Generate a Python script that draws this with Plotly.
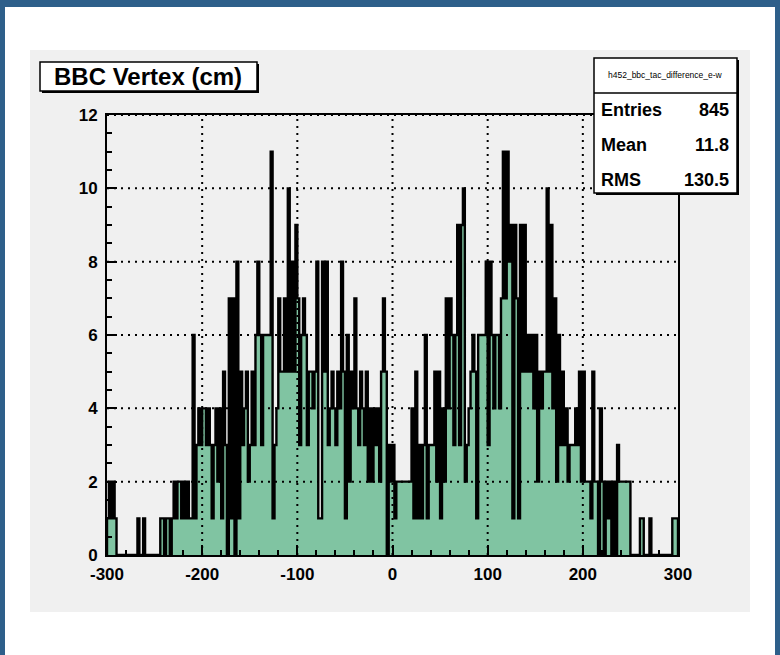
import plotly.graph_objects as go

# ---------------- data (2 cm bins from -300 to 300) ----------------
bin_low = -300
bin_width = 2
counts = [
    1, 2, 1, 2, 1, 0, 0, 0, 0, 0,
    0, 0, 0, 0, 0, 0, 1, 0, 0, 1,
    0, 0, 0, 0, 0, 0, 0, 0, 1, 1,
    0, 1, 1, 0, 1, 2, 1, 2, 2, 1,
    2, 1, 2, 1, 1, 6, 1, 3, 4, 3,
    4, 4, 3, 4, 3, 1, 3, 4, 2, 4,
    1, 5, 3, 0, 7, 1, 7, 0, 8, 1,
    5, 3, 4, 5, 2, 3, 5, 3, 6, 8,
    6, 3, 6, 6, 6, 6, 11, 1, 3, 4,
    7, 5, 5, 7, 5, 10, 5, 8, 5, 9,
    7, 3, 6, 7, 6, 3, 5, 5, 4, 5,
    8, 1, 1, 8, 5, 8, 3, 4, 5, 4,
    3, 5, 4, 8, 5, 1, 6, 2, 5, 4,
    7, 4, 3, 5, 4, 3, 5, 2, 4, 2,
    4, 3, 4, 2, 5, 7, 5, 0, 3, 2,
    3, 1, 2, 2, 2, 2, 2, 2, 2, 2,
    4, 1, 5, 1, 3, 1, 3, 6, 1, 3,
    3, 3, 5, 2, 5, 1, 4, 2, 7, 4,
    7, 6, 3, 6, 9, 3, 9, 10, 2, 3,
    4, 5, 6, 5, 1, 6, 6, 6, 6, 8,
    3, 8, 6, 4, 6, 6, 4, 7, 11, 7,
    11, 8, 9, 1, 9, 7, 1, 9, 5, 9,
    5, 6, 5, 6, 4, 6, 2, 5, 4, 5,
    5, 10, 5, 9, 4, 7, 2, 6, 3, 5,
    3, 4, 2, 3, 3, 3, 4, 3, 5, 2,
    5, 2, 2, 2, 1, 5, 2, 2, 0, 4,
    2, 0, 2, 1, 2, 0, 2, 0, 3, 2,
    2, 2, 2, 2, 2, 0, 0, 0, 0, 0,
    1, 1, 0, 0, 0, 1, 0, 0, 0, 0,
    0, 0, 0, 0, 0, 0, 0, 1, 1, 1,
]

x_ticks = [-300, -200, -100, 0, 100, 200, 300]
x_tick_labels = ["-300", "-200", "-100", "0", "100", "200", "300"]
y_ticks = [0, 2, 4, 6, 8, 10, 12]
y_tick_labels = ["0", "2", "4", "6", "8", "10", "12"]

title_text = "BBC Vertex (cm)"
hist_name = "h452_bbc_tac_difference_e-w"
stat_names = ["Entries", "Mean", "RMS"]
stat_values = ["845", "11.8", "130.5"]

# ---------------- geometry ----------------
W, H = 780, 655
L, R, T, B = 107, 102, 115, 100
PW, PH = W - L - R, H - T - B


def px(xp):
    return (xp - L) / PW


def py(yp):
    return (H - B - yp) / PH


GREEN = "#80c4a2"
CANVAS = "#f0f0f0"
FONT = "Liberation Sans"

# step outline of the histogram
n = len(counts)
edges = [bin_low + bin_width * i for i in range(n + 1)]
xs = [edges[0]] + edges + [edges[-1]]
ys = [0] + counts + [counts[-1], 0]

fig = go.Figure()
fig.add_trace(go.Scatter(
    x=xs, y=ys, mode="lines", line=dict(shape="hv", color="black", width=2.4),
    fill="tozeroy", fillcolor=GREEN, hoverinfo="skip", showlegend=False,
))

shapes = []
# window frame and canvas
shapes.append(dict(type="rect", xref="paper", yref="paper", x0=px(0), x1=px(W), y0=py(H), y1=py(0),
                   fillcolor="white", line=dict(width=0), layer="below"))
shapes.append(dict(type="rect", xref="paper", yref="paper", x0=px(0), x1=px(5), y0=py(H), y1=py(0),
                   fillcolor="#2e5f8a", line=dict(width=0), layer="below"))
shapes.append(dict(type="rect", xref="paper", yref="paper", x0=px(0), x1=px(W), y0=py(7), y1=py(0),
                   fillcolor="#2e5f8a", line=dict(width=0), layer="below"))
shapes.append(dict(type="rect", xref="paper", yref="paper", x0=px(775), x1=px(W), y0=py(H), y1=py(0),
                   fillcolor="#2e5f8a", line=dict(width=0), layer="below"))
shapes.append(dict(type="rect", xref="paper", yref="paper", x0=px(30), x1=px(750), y0=py(612), y1=py(50),
                   fillcolor=CANVAS, line=dict(width=0), layer="below"))

# dotted grid on top of the histogram
for xv in x_ticks[1:-1]:
    shapes.append(dict(type="line", xref="x", yref="y", x0=xv, x1=xv, y0=y_ticks[0], y1=y_ticks[-1],
                       line=dict(color="black", width=2, dash="2px,5px"), layer="above"))
for yv in y_ticks[1:]:
    shapes.append(dict(type="line", xref="x", yref="y", x0=x_ticks[0], x1=x_ticks[-1], y0=yv, y1=yv,
                       line=dict(color="black", width=2, dash="2px,5px"), layer="above"))

# title box (with shadow)
shapes.append(dict(type="rect", xref="paper", yref="paper", x0=px(42), x1=px(259), y0=py(93), y1=py(64),
                   fillcolor="black", line=dict(width=0), layer="above"))
shapes.append(dict(type="rect", xref="paper", yref="paper", x0=px(40), x1=px(257), y0=py(91), y1=py(62),
                   fillcolor="white", line=dict(color="black", width=1.5), layer="above"))
# stats box (with shadow)
shapes.append(dict(type="rect", xref="paper", yref="paper", x0=px(596), x1=px(739), y0=py(195), y1=py(60),
                   fillcolor="black", line=dict(width=0), layer="above"))
shapes.append(dict(type="rect", xref="paper", yref="paper", x0=px(594), x1=px(737), y0=py(193), y1=py(58),
                   fillcolor="white", line=dict(color="black", width=1.5), layer="above"))
shapes.append(dict(type="line", xref="paper", yref="paper", x0=px(594), x1=px(737), y0=py(93), y1=py(93),
                   line=dict(color="black", width=1.5), layer="above"))

annotations = [
    dict(text=title_text, xref="paper", yref="paper", x=px(148), y=py(77), showarrow=False,
         xanchor="center", yanchor="middle", font=dict(family=FONT, size=24, color="black", weight="bold")),
    dict(text=hist_name, xref="paper", yref="paper", x=px(665), y=py(75), showarrow=False,
         xanchor="center", yanchor="middle", font=dict(family=FONT, size=8.5, color="black")),
]
for i, (nm, val) in enumerate(zip(stat_names, stat_values)):
    yp = 110 + 35 * i
    annotations.append(dict(text=nm, xref="paper", yref="paper", x=px(599), y=py(yp), showarrow=False,
                            xanchor="left", yanchor="middle",
                            font=dict(family=FONT, size=18, color="black", weight="bold")))
    annotations.append(dict(text=val, xref="paper", yref="paper", x=px(731), y=py(yp), showarrow=False,
                            xanchor="right", yanchor="middle",
                            font=dict(family=FONT, size=18, color="black", weight="bold")))

tick_font = dict(family=FONT, size=17, color="black", weight="bold")
fig.update_layout(
    width=W, height=H, margin=dict(l=L, r=R, t=T, b=B, pad=0),
    paper_bgcolor="white", plot_bgcolor=CANVAS,
    shapes=shapes, annotations=annotations, showlegend=False,
    xaxis=dict(range=[x_ticks[0], x_ticks[-1]], tickvals=x_ticks, ticktext=x_tick_labels,
               showgrid=False, zeroline=False, showline=True, linecolor="black", linewidth=2,
               mirror=True, ticks="inside", ticklen=10, tickwidth=2, tickcolor="black",
               minor=dict(dtick=20, ticks="inside", ticklen=5, tickwidth=1.5, tickcolor="black"),
               tickfont=tick_font, ticklabelstandoff=3, layer="above traces"),
    yaxis=dict(range=[y_ticks[0], y_ticks[-1]], tickvals=y_ticks, ticktext=y_tick_labels,
               showgrid=False, zeroline=False, showline=True, linecolor="black", linewidth=2,
               mirror=True, ticks="inside", ticklen=10, tickwidth=2, tickcolor="black",
               minor=dict(dtick=0.5, ticks="inside", ticklen=5, tickwidth=1.5, tickcolor="black"),
               tickfont=tick_font, ticklabelstandoff=4, layer="above traces"),
)

fig.write_html("out.html", config={"displayModeBar": False},
               post_script="document.body.style.margin='0';document.body.style.overflow='hidden';")
